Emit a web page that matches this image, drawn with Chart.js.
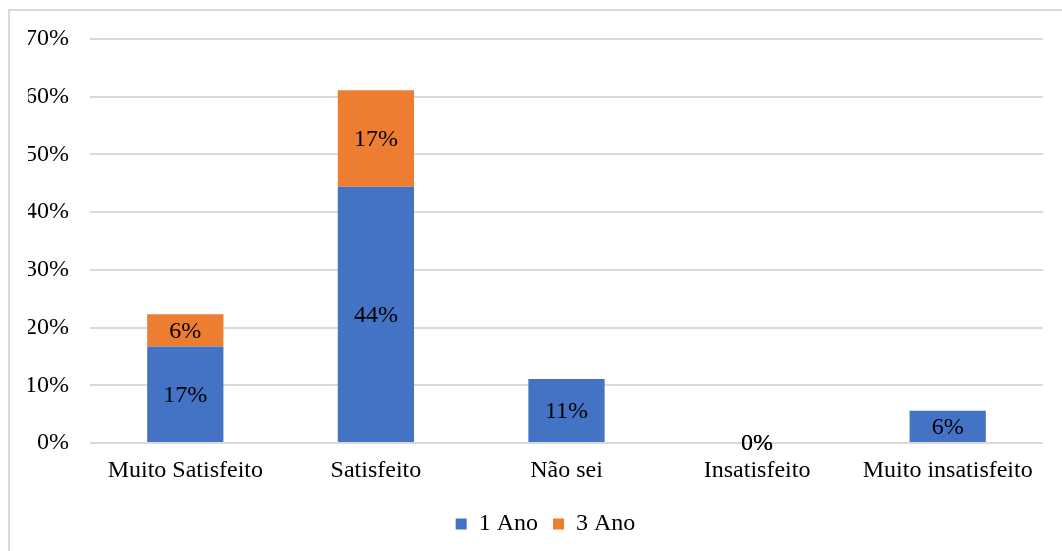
<!DOCTYPE html>
<html>
<head>
<meta charset="utf-8">
<script src="https://cdn.jsdelivr.net/npm/chart.js@4.4.1/dist/chart.umd.min.js"></script>
<style>
  html, body { margin: 0; padding: 0; background: #fff; }
  #wrap { position: relative; width: 1062px; height: 551px; overflow: hidden; }
  #frame { position: absolute; left: 8px; top: 9px; width: 1200px; height: 700px;
           border-left: 2px solid #d9d9d9; border-top: 2px solid #d9d9d9; }
  #c { position: absolute; left: 0; top: 0; }
</style>
</head>
<body>
<div id="wrap">
  <div id="frame"></div>
  <canvas id="c" width="1062" height="551"></canvas>
</div>
<script>
// Satisfaction answers by year group (percent of respondents)
const categories = ['Muito Satisfeito', 'Satisfeito', 'Não sei', 'Insatisfeito', 'Muito insatisfeito'];
const ano1 = [16.7, 44.4, 11.1, 0, 5.6];
const ano3 = [5.6, 16.7, null, 0, null];
const yTicks = [0, 10, 20, 30, 40, 50, 60, 70];

const FONT = 'Liberation Serif, Times New Roman, serif';
const SIZE = 24;

// Writes the rounded value in the middle of each stacked segment
const segmentLabels = {
  id: 'segmentLabels',
  afterDatasetsDraw(chart) {
    const ctx = chart.ctx;
    ctx.save();
    ctx.font = SIZE + 'px ' + FONT;
    ctx.fillStyle = '#000';
    ctx.textAlign = 'center';
    ctx.textBaseline = 'middle';
    chart.data.datasets.forEach((ds, i) => {
      const meta = chart.getDatasetMeta(i);
      meta.data.forEach((el, j) => {
        const v = ds.data[j];
        if (v === null || v === undefined) return;
        const y = (el.y + el.base) / 2;
        ctx.fillText(Math.round(v) + '%', el.x, y + 1);
      });
    });
    ctx.restore();
  }
};

// Nudges the legend a little to the right of the canvas centre
const legendShift = {
  id: 'legendShift',
  afterLayout(chart) {
    if (chart.legend) {
      chart.legend.left += 10;
      chart.legend.right += 10;
    }
  }
};

new Chart(document.getElementById('c'), {
  type: 'bar',
  data: {
    labels: categories,
    datasets: [
      { label: '1 Ano', data: ano1, backgroundColor: '#4472C4', barPercentage: 0.8, categoryPercentage: 0.5 },
      { label: '3 Ano', data: ano3, backgroundColor: '#ED7D31', barPercentage: 0.8, categoryPercentage: 0.5 }
    ]
  },
  options: {
    responsive: false,
    animation: false,
    layout: { padding: { left: 28, right: 19, top: 39, bottom: 5 } },
    plugins: {
      legend: {
        position: 'bottom',
        labels: {
          font: { family: FONT, size: SIZE },
          color: '#000',
          boxWidth: 11,
          boxHeight: 11,
          padding: 15
        }
      },
      tooltip: { enabled: false }
    },
    scales: {
      x: {
        stacked: true,
        grid: { display: false },
        border: { display: false },
        afterFit(scale) { scale.height = 54; },
        ticks: { font: { family: FONT, size: SIZE }, color: '#000', padding: 5, maxRotation: 0, autoSkip: false }
      },
      y: {
        stacked: true,
        min: 0,
        max: 70,
        afterBuildTicks(scale) { scale.ticks = yTicks.map(v => ({ value: v })); },
        afterFit(scale) { scale.width = 62; },
        grid: { color: '#d9d9d9', lineWidth: 2, drawTicks: false },
        border: { display: false },
        ticks: {
          font: { family: FONT, size: SIZE },
          color: '#000',
          padding: 21,
          callback: v => v + '%'
        }
      }
    }
  },
  plugins: [segmentLabels, legendShift]
});
</script>
</body>
</html>
